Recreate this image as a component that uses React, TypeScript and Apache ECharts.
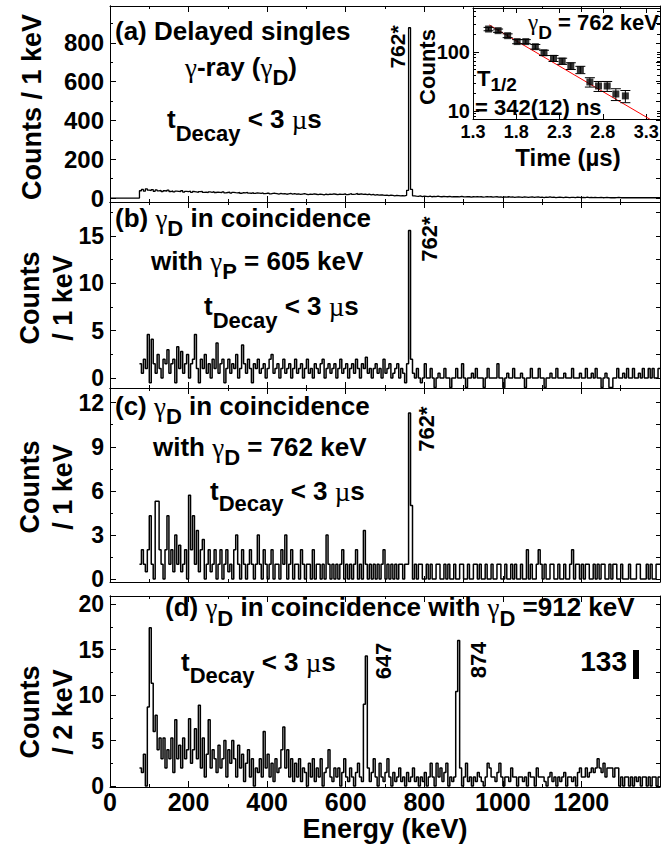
import React, { useEffect, useRef } from 'react';
import * as echarts from 'echarts';

// ---------- data ----------
// Histograms: lower bin edges start at BIN_START keV, BIN_WIDTH keV wide
const BIN_START = 75;
const BIN_WIDTH = 5;
const ENERGY_MAX = 1400;

// (a) delayed singles, counts / 1 keV
const singlesCounts = [
  38, 45, 36, 48, 41, 39, 44, 35, 42, 37, 40, 33, 38, 36, 41, 34, 37, 32, 36, 35,
  34, 38, 31, 35, 33, 36, 30, 34, 32, 29, 33, 35, 30, 31, 28, 32, 30, 33, 29, 31,
  30, 28, 32, 27, 29, 31, 26, 30, 28, 27, 29, 25, 28, 27, 30, 26, 25, 28, 24, 27,
  26, 24, 27, 23, 25, 26, 22, 24, 25, 23, 21, 24, 22, 23, 20, 22, 24, 21, 23, 20,
  22, 19, 21, 23, 20, 18, 21, 19, 22, 20, 18, 21, 19, 17, 20, 18, 21, 19, 22, 20,
  18, 21, 19, 20, 22, 18, 20, 23, 19, 21, 24, 20, 22, 19, 21, 18, 20, 17, 19, 16,
  18, 15, 17, 16, 14, 16, 13, 15, 14, 12, 14, 13, 11, 13, 12, 14, 40, 878, 45, 12,
  10, 9, 11, 8, 10, 9, 8, 10, 7, 9, 8, 10, 8, 7, 9, 8, 7, 9, 6, 8,
  7, 8, 6, 9, 7, 6, 8, 7, 5, 7, 6, 8, 6, 7, 5, 6, 8, 6, 7, 5,
  6, 7, 5, 6, 4, 6, 5, 7, 5, 6, 4, 5, 6, 5, 4, 6, 5, 4, 5, 6,
  4, 5, 6, 4, 5, 3, 5, 4, 6, 4, 5, 3, 4, 5, 4, 3, 5, 4, 3, 4,
  4, 3, 5, 4, 3, 4, 3, 5, 3, 4, 2, 4, 3, 3, 4, 2, 3, 4, 3, 2,
  3, 2, 3, 4, 2, 3, 2, 3, 2, 3, 2, 2, 3, 2, 3, 2, 2, 3, 2, 2,
  2, 3, 2, 2, 2,
];

// (b) gamma_D in coincidence with gamma_P = 605 keV, counts / 1 keV
const gateP605Counts = [
  1.5, 0.5, 2, 1, 4.6, -0.5, 4.1, 1.5, 0.5, 2.5, 1, 0, 2, 1.5, 3, 0.5, 1.5, 2, -0.5, 3.3,
  1, 2.8, 0.5, 1.5, 2.5, 0, 1.5, 2, 4.6, 1, -0.5, 2, 1, 2.5, 0.5, 1.5, 0, 2, 1, 3.7,
  0.5, 1.5, 2, -0.5, 1, 2, 0.5, 1.5, 1, 2.5, 0, 1, 3.5, 1.5, 0.5, 2, 1, -0.5, 1.5, 1,
  2, 0.5, 1, 1.5, 0, 1, 2, 2.5, 0.5, 1, 1.5, 0, 1, 2, 0.5, 1, 1.5, 0, 1, 2,
  0.5, 1, 1.5, 0, 1, 2, 0.5, 1, 0, 1.5, 1, 0.5, 1.5, 2, 0, 1, 1.5, 0.5, 1, 1.5,
  0, 1, 2, 0.5, 1, 1.5, 0, 1, 1.5, 0.5, 2, 1, 0, 1.5, 1, 2.2, 0.5, 1, 0, 1,
  1.5, 0.5, 1, 0, 2, 0.5, 1, 1.5, 0, 0.5, 1, 1.5, 0, 1, 0.5, -0.5, 1.5, 15.6, 2, 0.5,
  0, 1, 0, -0.5, 0, 1.5, 0, 0, 1, 0, -1, 0, 0.5, 0, 0, 1, 0, 0, -1, 0,
  0, 1, 0, 0, 1.5, 0, -1, 0, 0, 0.5, 0, 1, 0, 0, 0, -1, 0, 1, 0, 0,
  0, 0, 1.5, 0, 0, -1, 0, 0.5, 0, 0, 1, 0, 0, 0, 0.5, 0, -1, 0, 0, 1,
  0, 0, 0, 1, 0, 0, -1, 0, 0, 0.5, 0, 0, 1, 0, 0, 0, 0.5, 0, 0, 0,
  1, 0, 0, 0, 0.5, 0, 0, 1, 0, 0, 0.5, 0, 1, 0, 0, -1, 0, 0.5, 0, -1,
  -1, 0, 0, 1, 0, 0, 0.5, 0, 1, 0, 0, 1, 0, 0, 0.5, 0, 1, 0, 0, 1,
  0, 1, 0, 0, 1,
];

// (c) gamma_D in coincidence with gamma_D = 762 keV, counts / 1 keV
const gateD762Counts = [
  1, 2, 1, 0.5, 2, 4.3, 1, 0, 5.3, 5.3, 2, 1, 0, 2, 4.3, 1, 2, 0.5, 3, 1,
  2.3, 0.5, 1, 2, 0, 5.7, 2, 4.3, 1, 3.3, 0.5, 2, 2.7, 0, 1, 2, 0.5, 1, 2, 0,
  1, 2, 0, 1, 2, 0.5, 1, 0, 2, 3, 1, 0, 2, 1, 0, 1, 2, 1, 0, 1,
  3, 1, 0, 2, 1, 0, 1, 2, 0, 1, 1, 0, 2, 1, 3, 0, 1, 2, 0, 1,
  1, 0, 2, 1, 0, 1, 1, 0, 2, 0, 1, 1, 0, 1, 0, 3, 1, 0, 1, 0,
  1, 0, 1, 2, 0, 1, 0, 1, 0, 1, 2, 0, 1, 0, 3.3, 1, 0, 1, 0, 1,
  0, 1, 0, 1, 2, 0, 1, 0, 1, 0, 1, 0, 1, 1, 0, 1, 1, 11.3, 5, 0,
  1, 0, 1, 1, 0, 0, 1, 0, 1, 0, 0, 1, 1, 0, 0, 1, 0, 1, 0, 0,
  1, 0, 0, 1, 1, 0, 0, 1, 0, 0, 1, 1, 0, 1, 0, 0, 1, 0, 0, 1,
  0, 0, 1, 1, 0, 0, 1, 0, 0, 1, 0, 1, 0, 0, 1, 0, 0, 2, 0, 1,
  0, 0, 1, 2, 1, 0, 1, 0, 0, 1, 1, 0, 0, 1, 0, 0, 1, 0, 0, 1,
  2, 0, 1, 1, 0, 1, 0, 1, 1, 0, 0, 1, 0, 1, 0, 1, 1, 0, 0, 1,
  0, 1, 1, 0, 0, 1, 0, 0, 0, 1, 0, 0, 0, 1, 1, 0, 0, 0, 1, 0,
  1, 0, 0, 1, 1,
];

// (d) gamma_D in coincidence with gamma_D = 912 keV, counts / 2 keV
const gateD912Counts = [
  2, 1.5, 3.5, 0, 8.7, 17.4, 11.3, 6, 7.8, 4, 5.3, 3, 5.3, 2, 4, 3, 5.3, 1.5, 7.3, 3,
  4.5, 2, 5.3, 3, 4, 7.4, 2.5, 4, 6.3, 3, 8.9, 2, 5.3, 1, 3.5, 7.3, 2, 4, 3, 1.5,
  4.5, 2, 3, 5, 1, 4, 2.5, 5, 3, 1, 4.5, 2, 3.5, 0.5, 2.5, 4, 1, 3, 0, 2,
  1.5, 3, 1, 6, 2, 3.5, 1, 2.5, 0.5, 3, 1.5, 2, 4, 6.5, 2, 4, 1, 3, 0.5, 2.5,
  1, 3, 0.5, 2, 1.5, 0, 2.5, 1, 3, 0.5, 2, 1, 3, 0, 1.5, 2, 4, 1, 0.5, 2,
  1, 2, 0, 1.5, 3, 1, 0.5, 2, 1, 0, 1.5, 2.5, 1, 0.5, 9, 14.3, 2, 0.5, 1.5, 3,
  1, 0, 2.5, 1, 0.5, 1.5, 3, 1, 0, 1.5, 0.5, 1, 2, 0.5, 1, 0, 1.5, 0.5, 1, 2,
  0.5, 1, 0, 1, 0.5, 1.5, 0, 1, 2.5, 1, 0, 2.5, 1, 2, 0.5, 1.5, 2.5, 0, 1, 0.5,
  1, 10.4, 16, 2, 0, 1, 2.5, 0.5, 1, 0, 1, 0.5, 1.5, 1, 0.5, 0, 1, 2.5, 2, 1,
  1, 0.5, 1.5, 2.5, 1, 0, 1, 1, 0.5, 2, 1, 1, 0, 1, 1, 0.5, 1, 0, 1.5, 1,
  1, 0, 2, 1, 1, 1, 0.5, 0, 1, 1.5, 0.5, 1, 0, 1, 0.5, 1, 1.5, 0, 1, 1,
  0.5, 1, 0, 1.5, 2, 1, 1, 2, 1, 1.5, 2, 1.5, 2, 3, 2, 1.5, 2.5, 1, 2, 2,
  2, 1, 2, 2, 0, 1, 0, 1, 1, 0, 1, 0, 1, 0.5, 1, 0, 1, 1, 0, 1,
  0, 1, 1, 0, 1,
];

// y tick values per panel
const ticksA = [0, 200, 400, 600, 800];
const minorA = [100, 300, 500, 700, 900];
const ticksB = [0, 5, 10, 15];
const minorB = [2.5, 7.5, 12.5, 17.5];
const ticksC = [0, 3, 6, 9, 12];
const minorC = [1.5, 4.5, 7.5, 10.5];
const ticksD = [0, 5, 10, 15, 20];
const minorD = [2.5, 7.5, 12.5, 17.5];

// inset: decay curve of the 762 keV line
const decayTime = [1.48, 1.59, 1.70, 1.81, 1.91, 2.02, 2.12, 2.23, 2.33, 2.43, 2.54, 2.65, 2.75, 2.85, 2.95, 3.06];
const decayCounts = [245, 230, 189, 150, 150, 123, 97, 78, 70, 58, 50, 31, 26.5, 26.5, 19.4, 18];
const decayErr = [16, 15, 14, 12, 12, 11, 10, 9, 8.4, 7.6, 7.1, 5.6, 5.1, 5.1, 4.4, 4.2];
const fitTime = [1.488, 3.346];
const fitCounts = [287, 7.2];
const timeTicks = [1.3, 1.8, 2.3, 2.8, 3.3];
const insetCountTicks = [10, 100];
const insetCountMinor = [8, 9, 20, 30, 40, 50, 60, 70, 80, 90, 200, 300, 400, 500];

// ---------- styling ----------
const FONT = "'Liberation Sans', Arial, Helvetica, sans-serif";
const GREEK = "'Liberation Serif', 'DejaVu Serif', serif";

const toSteps = (vals: number[], fromZero: boolean) => {
  const pts: number[][] = vals.map((v, i) => [BIN_START + i * BIN_WIDTH, v]);
  pts.push([BIN_START + vals.length * BIN_WIDTH, vals[vals.length - 1]]);
  if (fromZero) pts.unshift([0, 0]);
  return pts;
};

const labelFont = (size: number) => ({ color: '#000', fontFamily: FONT, fontWeight: 'bold' as const, fontSize: size });
const axisLine = { show: true, onZero: false, lineStyle: { color: '#000', width: 1 } };
const tickLine = { color: '#000', width: 1 };

function energyAxis(gridIndex: number, position: string, showLabel: boolean) {
  return {
    type: 'value', gridIndex, position, min: 0, max: ENERGY_MAX, interval: 200,
    axisLine, splitLine: { show: false }, minorSplitLine: { show: false },
    axisTick: { show: true, inside: true, length: 6, lineStyle: tickLine },
    minorTick: { show: true, splitNumber: 2, length: 3, lineStyle: tickLine },
    axisLabel: {
      show: showLabel, ...labelFont(25), margin: 2,
      formatter: (v: number) => (v <= 1200 ? String(v) : ''),
    },
  };
}

function valAxis(gridIndex: number, position: string, min: number, max: number,
  tickValues: number[], labelValues: number[] | null, tickLen: number, labelSize: number, type = 'value') {
  const a: any = {
    type, gridIndex, position, min, max,
    axisLine, splitLine: { show: false },
    axisTick: { show: true, inside: true, length: tickLen, customValues: tickValues, lineStyle: tickLine },
    axisLabel: labelValues
      ? { show: true, customValues: labelValues, ...labelFont(labelSize), margin: 6 }
      : { show: false },
  };
  if (type === 'log') a.logBase = 10;
  return a;
}

const PANELS = [
  { top: 6, height: 196, min: -20, max: 990, major: ticksA, minor: minorA, values: singlesCounts, fromZero: true, lab: 24, lw: 1.3 },
  { top: 202, height: 186, min: -1.05, max: 18.6, major: ticksB, minor: minorB, values: gateP605Counts, fromZero: false, lab: 23, lw: 1.5 },
  { top: 388, height: 194, min: -0.2, max: 13, major: ticksC, minor: minorC, values: gateD762Counts, fromZero: false, lab: 23, lw: 1.5 },
  { top: 596, height: 191, min: -0.1, max: 20.9, major: ticksD, minor: minorD, values: gateD912Counts, fromZero: false, lab: 23, lw: 1.5 },
];

function buildOption() {
  const grid: any[] = [];
  const xAxis: any[] = [];
  const yAxis: any[] = [];
  const series: any[] = [];

  PANELS.forEach((p, i) => {
    grid.push({ left: 110, top: p.top, width: 550, height: p.height, containLabel: false });
    xAxis.push(energyAxis(i, 'bottom', i === 3));
    xAxis.push(energyAxis(i, 'top', false));
    yAxis.push(valAxis(i, 'left', p.min, p.max, p.major, p.major, 6, p.lab));
    yAxis.push(valAxis(i, 'left', p.min, p.max, p.minor, null, 3, p.lab));
    yAxis.push(valAxis(i, 'right', p.min, p.max, [...p.major, ...p.minor], null, 4, p.lab));
    series.push({
      type: 'line', xAxisIndex: 2 * i, yAxisIndex: 3 * i,
      data: toSteps(p.values, p.fromZero), step: 'end', symbol: 'none', showSymbol: false,
      lineStyle: { color: '#000', width: p.lw }, clip: true, silent: true,
    });
  });

  // inset
  const gi = 4;
  grid.push({ left: 473, top: 8, width: 187, height: 111, containLabel: false });
  const tx = (position: string, show: boolean) => ({
    type: 'value', gridIndex: gi, position, min: 1.3, max: 3.46,
    axisLine, splitLine: { show: false },
    axisTick: { show: true, inside: true, length: 5, customValues: timeTicks, lineStyle: tickLine },
    axisLabel: show
      ? { show: true, customValues: timeTicks, ...labelFont(18), margin: 4, formatter: (v: number) => v.toFixed(1) }
      : { show: false },
  });
  xAxis.push(tx('bottom', true));
  xAxis.push(tx('top', false));
  yAxis.push(valAxis(gi, 'left', 7.3, 557, insetCountTicks, insetCountTicks, 6, 20, 'log'));
  yAxis.push(valAxis(gi, 'left', 7.3, 557, insetCountMinor, null, 3, 20, 'log'));
  yAxis.push(valAxis(gi, 'right', 7.3, 557, [...insetCountTicks, ...insetCountMinor], null, 3, 20, 'log'));
  yAxis[12].axisLabel.margin = 3;

  series.push({
    type: 'line', xAxisIndex: 8, yAxisIndex: 12,
    data: fitTime.map((t, k) => [t, fitCounts[k]]),
    symbol: 'none', lineStyle: { color: '#ff0000', width: 1 }, clip: true, silent: true, z: 2,
  });
  series.push({
    type: 'custom', xAxisIndex: 8, yAxisIndex: 12, silent: true, z: 3,
    data: decayTime.map((t, k) => [t, decayCounts[k], decayErr[k]]),
    encode: { x: 0, y: 1 },
    renderItem: (_params: any, api: any) => {
      const t = api.value(0), c = api.value(1), e = api.value(2);
      const lo = api.coord([t, c - e]);
      const hi = api.coord([t, c + e]);
      const h = 5;
      const st = { stroke: '#000', lineWidth: 1 };
      return {
        type: 'group',
        children: [
          { type: 'line', shape: { x1: lo[0], y1: lo[1], x2: hi[0], y2: hi[1] }, style: st },
          { type: 'line', shape: { x1: lo[0] - h, y1: lo[1], x2: lo[0] + h, y2: lo[1] }, style: st },
          { type: 'line', shape: { x1: hi[0] - h, y1: hi[1], x2: hi[0] + h, y2: hi[1] }, style: st },
        ],
      };
    },
  });
  series.push({
    type: 'scatter', xAxisIndex: 8, yAxisIndex: 12, silent: true, z: 4,
    data: decayTime.map((t, k) => [t, decayCounts[k]]),
    symbol: 'rect', symbolSize: 7, itemStyle: { color: '#000' },
  });

  // ---------- annotations ----------
  const rt = (x: number, yc: number, segs: string[][], size: number, sub = 21, drop = 9) => ({
    type: 'text', x, y: yc - (size + 2) / 2, silent: true, z: 50,
    style: {
      text: segs.map(([k, s]) => `{${k}|${s}}`).join(''),
      rich: {
        m: { fontSize: size, fontWeight: 'bold', fontFamily: FONT, lineHeight: size + 2, verticalAlign: 'top', fill: '#000' },
        g: { fontSize: size + 1, fontWeight: 'normal', fontFamily: GREEK, lineHeight: size + 2, verticalAlign: 'top', fill: '#000' },
        s: { fontSize: sub, fontWeight: 'bold', fontFamily: FONT, lineHeight: size + 2 + 2 * drop, fill: '#000' },
      },
      align: 'left', verticalAlign: 'top', fill: '#000',
    },
  });
  const plain = (x: number, y: number, text: string, size: number, align = 'center', rot = 0) => ({
    type: 'text', x, y, rotation: rot, silent: true, z: 50,
    style: { text, fontSize: size, fontWeight: 'bold', fontFamily: FONT, fill: '#000', align, verticalAlign: 'middle' },
  });
  const V = Math.PI / 2;
  const tDecay = (x: number, y: number, drop: number) =>
    rt(x, y, [['m', 't'], ['s', 'Decay'], ['m', ' < 3 '], ['g', 'µ'], ['m', 's']], 26, 22, drop);

  const graphic: any[] = [
    rt(115, 32, [['m', '(a) Delayed singles']], 26),
    rt(185, 68, [['g', 'γ'], ['m', '-ray ('], ['g', 'γ'], ['s', 'D'], ['m', ')']], 26, 22, 9),
    tDecay(167, 120, 13),
    rt(115, 219, [['m', '(b) '], ['g', 'γ'], ['s', 'D'], ['m', ' in coincidence']], 26, 22, 9),
    rt(151, 262, [['m', 'with '], ['g', 'γ'], ['s', 'P'], ['m', ' = 605 keV']], 26, 22, 9),
    tDecay(204, 307, 13),
    rt(115, 407, [['m', '(c) '], ['g', 'γ'], ['s', 'D'], ['m', ' in coincidence']], 26, 22, 9),
    rt(153, 448, [['m', 'with '], ['g', 'γ'], ['s', 'D'], ['m', ' = 762 keV']], 26, 22, 9),
    tDecay(210, 492, 11),
    rt(165, 608, [['m', '(d) '], ['g', 'γ'], ['s', 'D'], ['m', ' in coincidence with '], ['g', 'γ'], ['s', 'D'], ['m', ' =912 keV']], 26, 22, 10),
    tDecay(181, 663, 12),
    // inset texts
    rt(528, 23, [['g', 'γ'], ['s', 'D'], ['m', ' = 762 keV']], 22, 19, 9),
    rt(477, 79, [['m', 'T'], ['s', '1/2']], 22, 19, 5),
    rt(475, 108, [['m', '= 342(12) ns']], 22),
    plain(427, 67, 'Counts', 22, 'center', V),
    plain(568, 157, 'Time (µs)', 24),
    // axis names
    plain(32, 107, 'Counts / 1 keV', 27, 'center', V),
    plain(30, 298, 'Counts', 27, 'center', V),
    plain(63, 298, '/ 1 keV', 27, 'center', V),
    plain(30, 487, 'Counts', 27, 'center', V),
    plain(63, 487, '/ 1 keV', 27, 'center', V),
    plain(30, 712, 'Counts', 27, 'center', V),
    plain(63, 712, '/ 2 keV', 27, 'center', V),
    plain(385, 829, 'Energy (keV)', 27),
    // peak labels
    plain(397, 47, '762*', 21, 'center', V),
    plain(429, 239, '762*', 22, 'center', V),
    plain(426, 429, '762*', 22, 'center', V),
    plain(383, 661, '647', 22, 'center', V),
    plain(478, 660, '874', 22, 'center', V),
    plain(627, 661, '133', 28, 'right'),
    { type: 'rect', silent: true, z: 50, shape: { x: 633, y: 650, width: 6, height: 29 }, style: { fill: '#000' } },
  ];

  return {
    animation: false,
    backgroundColor: '#fff',
    grid, xAxis, yAxis, series, graphic,
  };
}

export default function App() {
  const ref = useRef<HTMLDivElement>(null);
  useEffect(() => {
    if (!ref.current) return;
    const chart = echarts.init(ref.current, null, { renderer: 'svg' });
    chart.setOption(buildOption() as any);
    return () => chart.dispose();
  }, []);
  return (
    <div
      ref={ref}
      style={{ position: 'absolute', left: 0, top: 0, width: 672, height: 844, background: '#fff' }}
    />
  );
}
